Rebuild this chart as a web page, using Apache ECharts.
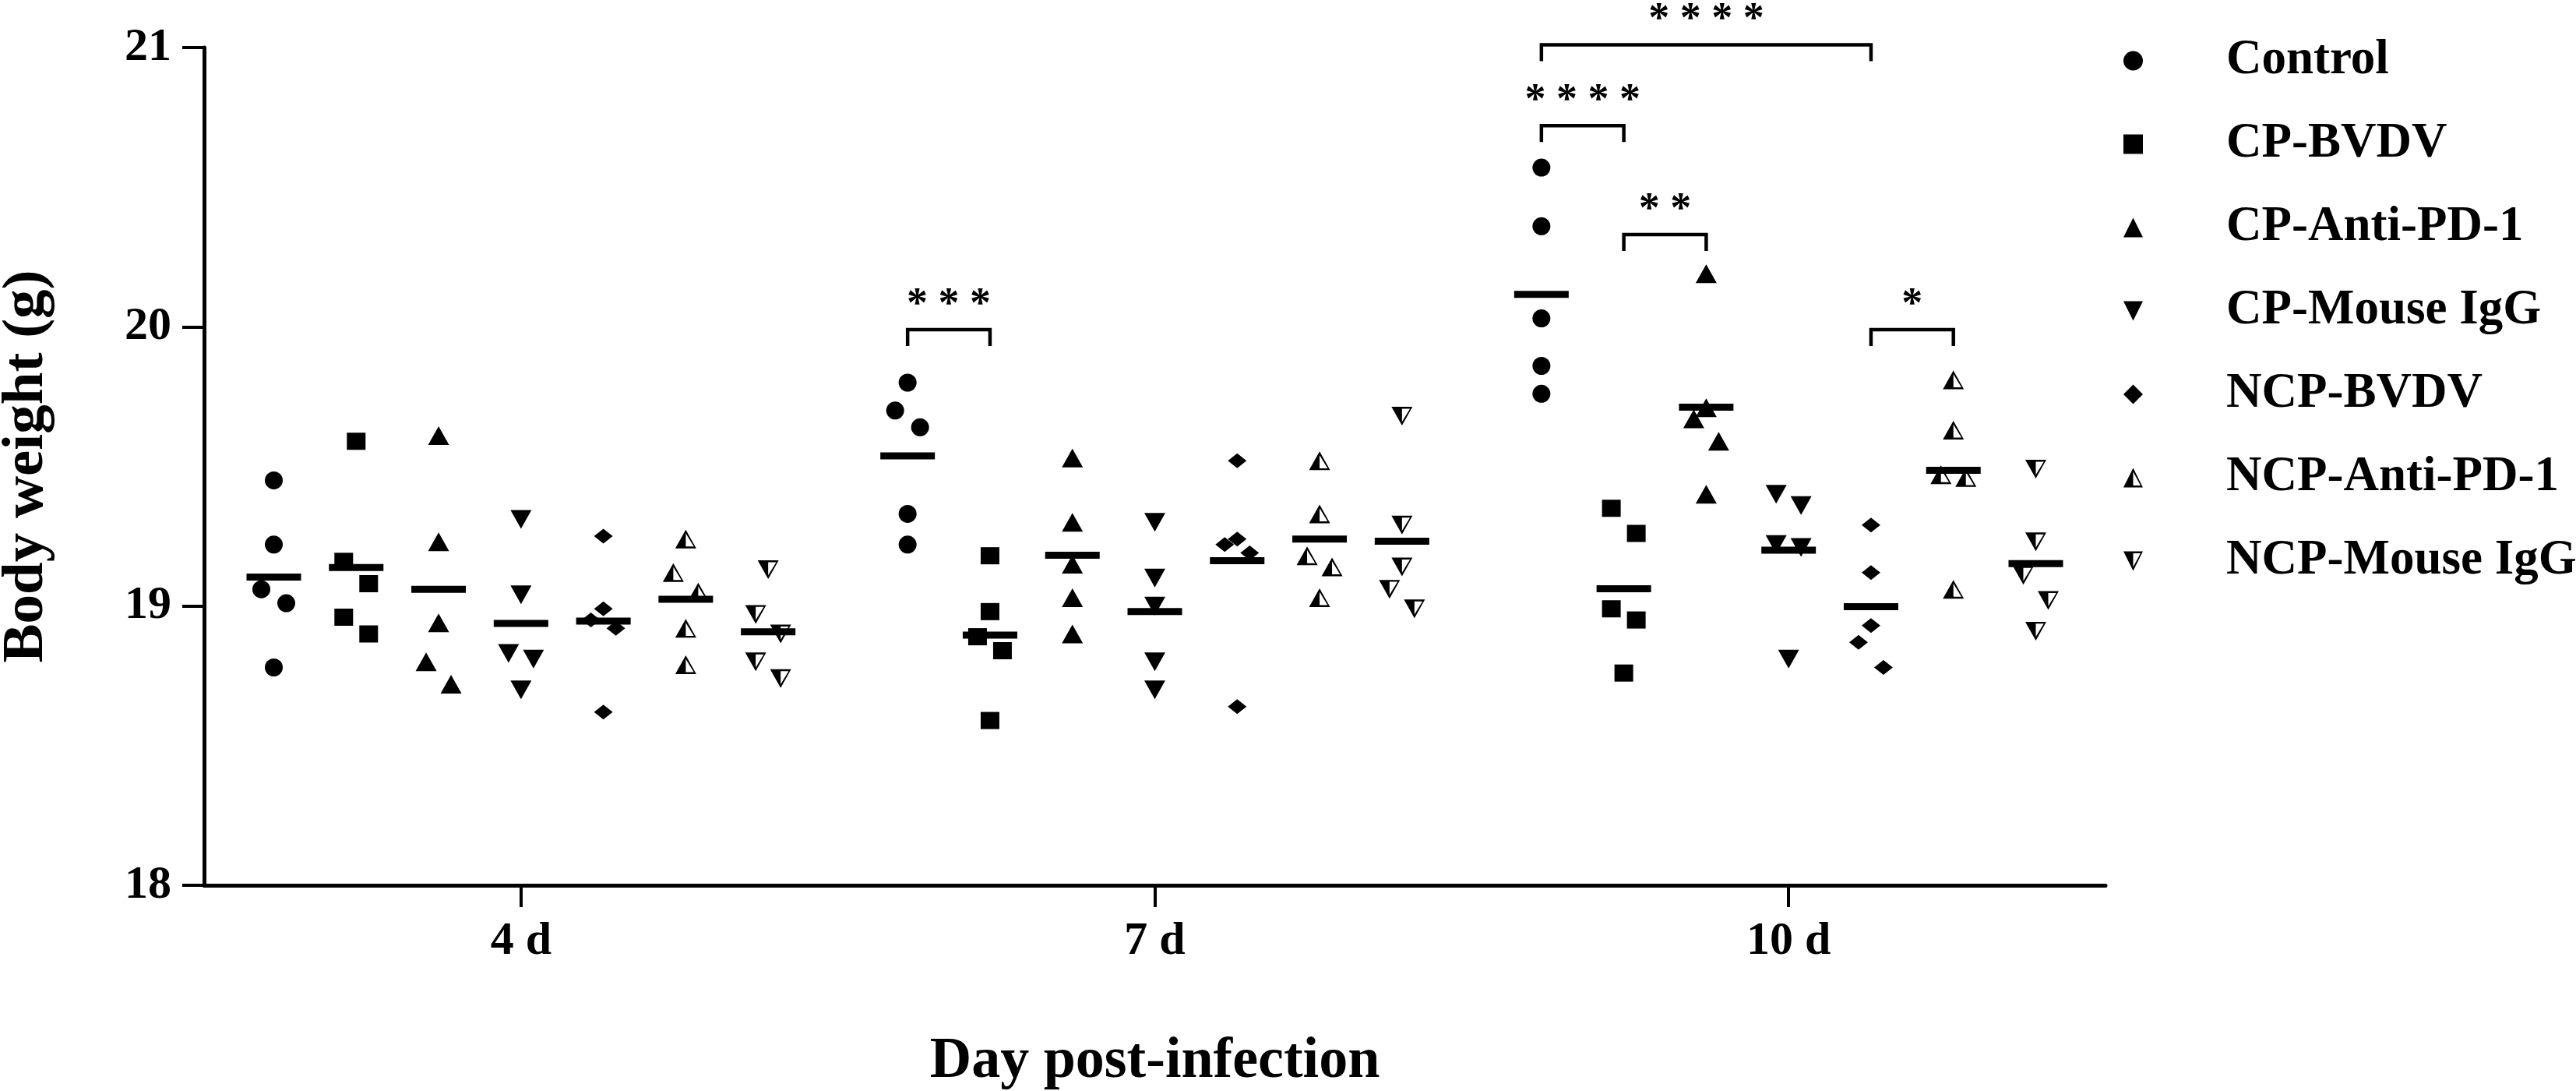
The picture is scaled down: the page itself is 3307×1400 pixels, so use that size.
<!DOCTYPE html>
<html><head><meta charset="utf-8">
<script src="https://cdn.jsdelivr.net/npm/echarts@6/dist/echarts.min.js"></script>
<style>html,body{margin:0;padding:0;background:#fff}#c{width:3307px;height:1400px}</style>
</head><body><div id="c"></div>
<script>
// ---------- data ----------
const days = ['4 d', '7 d', '10 d'];
const groups = ['Control', 'CP-BVDV', 'CP-Anti-PD-1', 'CP-Mouse IgG', 'NCP-BVDV', 'NCP-Anti-PD-1', 'NCP-Mouse IgG'];
const yTicks = [18, 19, 20, 21];

// body weight (g) of the 5 mice per group, rows = [4 d, 7 d, 10 d]
const control  = [[19.45, 19.22, 19.06, 19.01, 18.78], [19.80, 19.70, 19.64, 19.33, 19.22], [20.57, 20.36, 20.03, 19.86, 19.76]];
const cpBVDV   = [[19.59, 19.16, 19.08, 18.96, 18.90], [19.18, 18.98, 18.89, 18.84, 18.59], [19.35, 19.26, 18.99, 18.95, 18.76]];
const cpAnti   = [[19.61, 19.23, 18.94, 18.80, 18.72], [19.53, 19.30, 19.15, 19.03, 18.90], [20.19, 19.71, 19.67, 19.59, 19.40]];
const cpMouse  = [[19.31, 19.04, 18.83, 18.81, 18.70], [19.30, 19.10, 19.00, 18.80, 18.70], [19.40, 19.36, 19.22, 19.21, 18.81]];
const ncpBVDV  = [[19.25, 18.99, 18.95, 18.92, 18.62], [19.52, 19.24, 19.22, 19.19, 18.64], [19.29, 19.12, 18.93, 18.87, 18.78]];
const ncpAnti  = [[19.24, 19.12, 19.05, 18.92, 18.79], [19.52, 19.33, 19.18, 19.14, 19.03], [19.81, 19.63, 19.47, 19.46, 19.06]];
const ncpMouse = [[19.13, 18.97, 18.90, 18.80, 18.74], [19.68, 19.29, 19.14, 19.06, 18.99], [19.49, 19.23, 19.11, 19.02, 18.91]];

// significance comparisons
const sigDay   = ['7 d', '10 d', '10 d', '10 d', '10 d'];
const sigFrom  = ['Control', 'Control', 'CP-BVDV', 'Control', 'NCP-BVDV'];
const sigTo    = ['CP-BVDV', 'CP-BVDV', 'CP-Anti-PD-1', 'NCP-BVDV', 'NCP-Anti-PD-1'];
const sigText  = ['***', '****', '**', '****', '*'];
const sigLevel = [19.99, 20.72, 20.33, 21.01, 19.99];

// ---------- layout / style ----------
const seriesData = [control, cpBVDV, cpAnti, cpMouse, ncpBVDV, ncpAnti, ncpMouse];
const FONT = "'Liberation Serif', 'Times New Roman', serif";
const GROUP_STEP = 0.13;   // value-axis units between neighbouring groups
const SPREAD_PX = 16;      // horizontal spread of overlapping points
const OVERLAP = 0.092;     // values closer than this are spread
const symbols = [
  'circle',
  'rect',
  'triangle',
  'path://M0,0L100,0L50,100Z',
  'diamond',
  'path://M50,0L100,100L0,100Z M50,20L12,90L88,90Z M50,20L50,90L12,90Z',
  'path://M0,0L100,0L50,100Z M12,10L50,80L88,10Z M12,10L50,10L50,80Z'
];
const sizes = [23, [24, 22], [27, 24], [27, 24], [24, 19], [27, 24], [27, 24]];

function xPos(dayIdx, groupIdx) { return dayIdx + 0.5 + (groupIdx - 3) * GROUP_STEP; }

function spreadOffsets(vals) {
  const idx = vals.map((v, i) => i).sort((a, b) => vals[b] - vals[a]);
  const off = new Array(vals.length).fill(0);
  let cluster = [idx[0]];
  const flush = () => {
    const n = cluster.length;
    const pat = n === 1 ? [0] : n === 2 ? [-1, 1] : n === 3 ? [0, -1, 1] : cluster.map((_, k) => k - (n - 1) / 2);
    cluster.forEach((i, k) => { off[i] = pat[k] * SPREAD_PX; });
  };
  for (let k = 1; k < idx.length; k++) {
    if (vals[idx[k - 1]] - vals[idx[k]] < OVERLAP) cluster.push(idx[k]);
    else { flush(); cluster = [idx[k]]; }
  }
  flush();
  return off;
}

const series = [];
const meanData = [];
seriesData.forEach((rows, g) => {
  const data = [];
  rows.forEach((vals, d) => {
    const off = spreadOffsets(vals);
    vals.forEach((v, i) => data.push({ value: [xPos(d, g), v], symbolOffset: [off[i], 0] }));
    const mean = vals.reduce((a, b) => a + b, 0) / vals.length;
    meanData.push([xPos(d, g), mean]);
  });
  series.push({
    name: groups[g], type: 'scatter', xAxisIndex: 1, yAxisIndex: 0,
    symbol: symbols[g], symbolSize: sizes[g],
    itemStyle: { color: '#000', opacity: 1 },
    emphasis: { disabled: true },
    data: data, z: 5, silent: true
  });
});
series.push({
  name: 'mean', type: 'scatter', xAxisIndex: 1, yAxisIndex: 0,
  symbol: 'rect', symbolSize: [70, 9], itemStyle: { color: '#000', opacity: 1 },
  emphasis: { disabled: true },
  data: meanData, z: 4, silent: true
});

const sigData = sigDay.map((d, i) => {
  const di = days.indexOf(d);
  return [xPos(di, groups.indexOf(sigFrom[i])), xPos(di, groups.indexOf(sigTo[i])), sigLevel[i]];
});
series.push({
  type: 'custom', xAxisIndex: 1, yAxisIndex: 0, clip: false, silent: true, z: 6,
  data: sigData,
  renderItem: (params, api) => {
    const p1 = api.coord([api.value(0), api.value(2)]);
    const p2 = api.coord([api.value(1), api.value(2)]);
    const tip = 21;
    return {
      type: 'group',
      children: [
        { type: 'polyline',
          shape: { points: [[p1[0], p1[1] + tip], [p1[0], p1[1]], [p2[0], p2[1]], [p2[0], p2[1] + tip]] },
          style: { stroke: '#000', lineWidth: 4.5, fill: null } },
        { type: 'text', x: (p1[0] + p2[0]) / 2, y: p1[1] - 4,
          style: { text: sigText[params.dataIndex].split('').join(' '), fill: '#000',
                   font: 'bold 54px ' + FONT, align: 'center', verticalAlign: 'bottom' } }
      ]
    };
  }
});

const chart = echarts.init(document.getElementById('c'));
chart.setOption({
  animation: false,
  backgroundColor: '#fff',
  grid: { left: 262, right: 604, top: 61, bottom: 264, containLabel: false, outerBoundsMode: 'none' },
  legend: {
    orient: 'vertical', left: 2721, top: 38,
    itemWidth: 25, itemHeight: 25, itemGap: 37,
    data: groups, selectedMode: false,
    textStyle: { fontFamily: FONT, fontWeight: 'bold', fontSize: 63, color: '#000', lineHeight: 70, padding: [0, 0, 0, 102] }
  },
  xAxis: [
    {
      type: 'category', data: days, boundaryGap: true, position: 'bottom',
      axisLine: { show: true, lineStyle: { color: '#000', width: 5 } },
      axisTick: { show: true, alignWithLabel: true, length: 28, lineStyle: { color: '#000', width: 4 } },
      axisLabel: { fontFamily: FONT, fontWeight: 'bold', fontSize: 60, color: '#000', margin: 42 },
      splitLine: { show: false },
      name: 'Day post-infection', nameLocation: 'middle', nameGap: 190,
      nameTextStyle: { fontFamily: FONT, fontWeight: 'bold', fontSize: 74, color: '#000' }
    },
    { type: 'value', min: 0, max: days.length, show: false }
  ],
  yAxis: {
    type: 'value', min: yTicks[0], max: yTicks[yTicks.length - 1], interval: 1,
    axisLine: { show: true, lineStyle: { color: '#000', width: 5 } },
    axisTick: { show: true, length: 28, lineStyle: { color: '#000', width: 4 } },
    axisLabel: { fontFamily: FONT, fontWeight: 'bold', fontSize: 60, color: '#000', margin: 42 },
    splitLine: { show: false },
    name: 'Body weight (g)', nameLocation: 'middle', nameGap: 190,
    nameTextStyle: { fontFamily: FONT, fontWeight: 'bold', fontSize: 75, color: '#000' }
  },
  series: series
});
</script></body></html>
